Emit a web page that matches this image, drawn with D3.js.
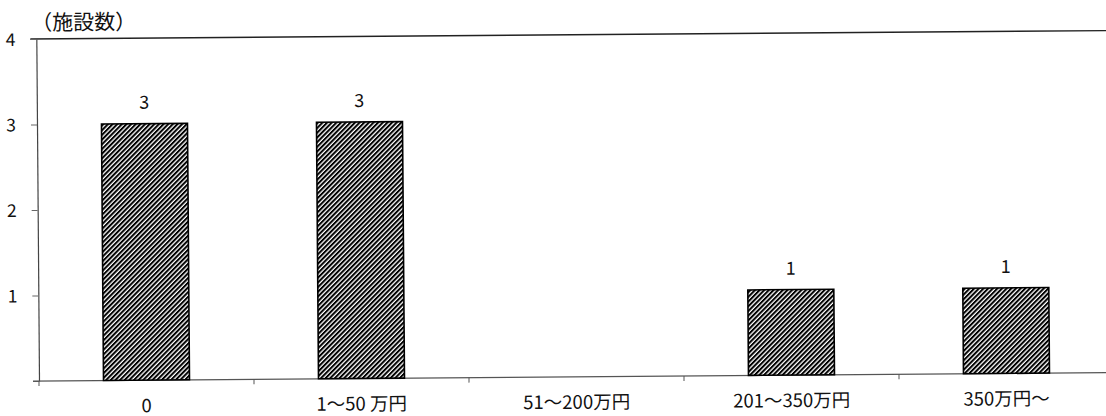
<!DOCTYPE html>
<html>
<head>
<meta charset="utf-8">
<script src="https://cdn.jsdelivr.net/npm/d3@7"></script>
<style>
  html, body { margin: 0; padding: 0; background: #fff; }
  svg { display: block; font-family: "Noto Sans CJK JP", "Noto Sans", sans-serif; }
</style>
</head>
<body>
<svg id="chart" width="1106" height="416"></svg>
<script>
// 施設数（助成金額の階級別）
const categories = ["0", "1〜50 万円", "51〜200万円", "201〜350万円", "350万円〜"];
const counts = [3, 3, 0, 1, 1];
const yTicks = [0, 1, 2, 3, 4];
const yTitle = "（施設数）";

const W = 1106, H = 416;
const margin = { left: 39, top: 39 };
const plotRight = 1114;
const axisY = 381;

const svg = d3.select("#chart");

// hatch fill for bars
const defs = svg.append("defs");
const pat = defs.append("pattern")
  .attr("id", "hatch")
  .attr("patternUnits", "userSpaceOnUse")
  .attr("width", 3.3)
  .attr("height", 10)
  .attr("patternTransform", "rotate(45)");
pat.append("rect").attr("width", 3.3).attr("height", 10).attr("fill", "#fff");
pat.append("rect").attr("width", 2.0).attr("height", 10).attr("fill", "#000");

// whole sheet sits slightly tilted
const g = svg.append("g").attr("transform", `rotate(-0.45, ${margin.left}, ${axisY})`);

const x = d3.scaleBand().domain(categories).range([margin.left, plotRight]).padding(0);
const y = d3.scaleLinear().domain([0, 4]).range([axisY, margin.top]);

// top frame line
g.append("line")
  .attr("x1", margin.left - 6).attr("x2", W + 10)
  .attr("y1", y(4)).attr("y2", y(4))
  .attr("stroke", "#222").attr("stroke-width", 1.4);

// y axis
const yAxis = g.append("g")
  .attr("transform", `translate(${margin.left},0)`)
  .call(d3.axisLeft(y).tickValues(yTicks).tickSize(6).tickSizeOuter(0).tickFormat(d3.format("d")));
yAxis.select(".domain").attr("stroke", "#444").attr("stroke-width", 1.2);
yAxis.selectAll(".tick line").attr("stroke", "#666").attr("stroke-width", 1);
yAxis.selectAll(".tick text")
  .attr("x", -21).attr("dy", "0.36em")
  .attr("font-size", 17.5).attr("fill", "#111")
  .attr("font-family", "'Noto Sans CJK JP', sans-serif");
yAxis.selectAll(".tick").filter(d => d === 0).select("text").remove();

// x axis line with boundary ticks
g.append("line")
  .attr("x1", margin.left - 6).attr("x2", W + 10)
  .attr("y1", y(0)).attr("y2", y(0))
  .attr("stroke", "#555").attr("stroke-width", 1.2);
const bounds = categories.map(c => x(c));
g.selectAll(".xtick").data(bounds).join("line")
  .attr("class", "xtick")
  .attr("x1", d => d).attr("x2", d => d)
  .attr("y1", y(0)).attr("y2", y(0) + 5)
  .attr("stroke", "#555").attr("stroke-width", 1);

// category labels
g.selectAll(".xlabel").data(categories).join("text")
  .attr("class", "xlabel")
  .attr("x", d => x(d) + x.bandwidth() / 2)
  .attr("y", y(0) + 32)
  .attr("text-anchor", "middle")
  .attr("font-size", 18.5)
  .attr("fill", "#111")
  .text(d => d);

// bars
const barW = x.bandwidth() * 0.4;
const data = categories.map((c, i) => ({ c, v: counts[i] }));
g.selectAll(".bar").data(data.filter(d => d.v > 0)).join("rect")
  .attr("class", "bar")
  .attr("x", d => x(d.c) + (x.bandwidth() - barW) / 2)
  .attr("y", d => y(d.v))
  .attr("width", barW)
  .attr("height", d => y(0) - y(d.v))
  .attr("fill", "url(#hatch)")
  .attr("stroke", "#000")
  .attr("stroke-width", 1.6);

// value labels
g.selectAll(".vlabel").data(data.filter(d => d.v > 0)).join("text")
  .attr("class", "vlabel")
  .attr("x", d => x(d.c) + x.bandwidth() / 2)
  .attr("y", d => y(d.v) - 15)
  .attr("text-anchor", "middle")
  .attr("font-size", 18)
  .attr("fill", "#111")
  .text(d => d.v);

// y title
g.append("text")
  .attr("x", 34).attr("y", 30)
  .attr("font-size", 21)
  .attr("fill", "#111")
  .text(yTitle);
</script>
</body>
</html>
